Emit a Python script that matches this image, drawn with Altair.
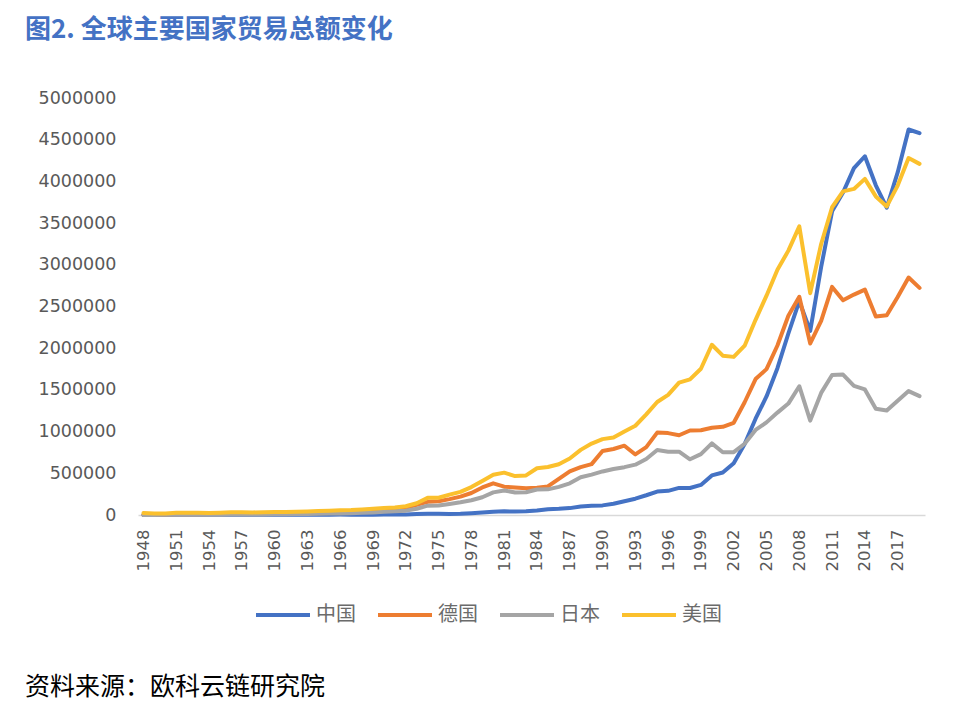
import altair as alt
import pandas as pd

years = [1948, 1949, 1950, 1951, 1952, 1953, 1954, 1955, 1956, 1957, 1958, 1959,
         1960, 1961, 1962, 1963, 1964, 1965, 1966, 1967, 1968, 1969, 1970, 1971,
         1972, 1973, 1974, 1975, 1976, 1977, 1978, 1979, 1980, 1981, 1982, 1983,
         1984, 1985, 1986, 1987, 1988, 1989, 1990, 1991, 1992, 1993, 1994, 1995,
         1996, 1997, 1998, 1999, 2000, 2001, 2002, 2003, 2004, 2005, 2006, 2007,
         2008, 2009, 2010, 2011, 2012, 2013, 2014, 2015, 2016, 2017, 2018, 2019]

china = [1300, 1100, 1900, 2300, 1900, 2400, 2400, 3100, 3100, 3100, 3900, 4400,
         3800, 2900, 2700, 2900, 3500, 4200, 4600, 4200, 4100, 4000, 4600, 4800,
         6300, 11000, 14600, 14800, 13400, 14800, 20600, 29300, 38100, 44000, 41600, 43600,
         53500, 69600, 73800, 82700, 102800, 111700, 115400, 135700, 165500, 195700, 236600, 280900,
         289900, 325200, 324200, 360600, 474300, 509700, 620800, 851000, 1154600, 1421900, 1760400, 2176200,
         2563300, 2207500, 2974000, 3641900, 3867100, 4159000, 4301500, 3953000, 3685600, 4107100, 4622400, 4577900]

germany = [2000, 3300, 5700, 7500, 8300, 9200, 10700, 12400, 14300, 16900, 17000, 19200,
           21400, 23600, 25600, 27900, 31100, 35400, 38300, 39200, 44400, 53800, 63400, 73200,
           86700, 122400, 158000, 164000, 190000, 220000, 264000, 330000, 380000, 340000, 331000, 321000,
           326000, 342000, 434000, 523000, 574000, 610000, 767000, 791000, 831000, 726000, 814000, 988000,
           982000, 956000, 1013000, 1016000, 1046000, 1058000, 1106000, 1352000, 1630000, 1749000, 2032000, 2389000,
           2617000, 2057000, 2327000, 2735000, 2574000, 2643000, 2703000, 2379000, 2394000, 2615000, 2848000, 2723000]

japan = [900, 1400, 1800, 3300, 3300, 3700, 4000, 4500, 5700, 7100, 5900, 7000,
         8500, 10000, 10500, 12200, 14600, 16600, 19300, 22100, 25900, 31000, 38200, 43900,
         52400, 75300, 111600, 113600, 131800, 151900, 177000, 213100, 271400, 294600, 270500, 273000,
         306400, 307700, 337500, 380000, 452200, 484500, 522400, 551500, 573500, 603500, 672100, 778800,
         759000, 759300, 668000, 729600, 858400, 752500, 753000, 854600, 1020000, 1110600, 1228000, 1336000,
         1544000, 1132000, 1464000, 1678000, 1684000, 1548000, 1506000, 1273000, 1252000, 1369000, 1486000, 1426000]

usa = [24000, 18900, 19200, 26000, 25900, 26200, 25400, 27100, 31600, 34300, 31000, 33800,
       36600, 37400, 39300, 41900, 46600, 50500, 56600, 58700, 67000, 73600, 83000, 89800,
       104500, 140900, 205400, 207000, 244100, 278000, 334900, 408600, 482000, 508000, 466400, 475000,
       560000, 575000, 609000, 677000, 781000, 857000, 910000, 930000, 1002000, 1070000, 1206000, 1355000,
       1440000, 1587000, 1626000, 1754000, 2041000, 1910000, 1896000, 2030000, 2340000, 2630000, 2940000, 3170000,
       3460000, 2660000, 3250000, 3690000, 3880000, 3910000, 4030000, 3820000, 3700000, 3950000, 4280000, 4210000]

series_names = ["中国", "德国", "日本", "美国"]
series_colors = ["#4472C4", "#ED7D31", "#A5A5A5", "#FBC02D"]

x_tick_labels = [1948, 1951, 1954, 1957, 1960, 1963, 1966, 1969, 1972, 1975, 1978, 1981,
                 1984, 1987, 1990, 1993, 1996, 1999, 2002, 2005, 2008, 2011, 2014, 2017]
y_tick_labels = [0, 500000, 1000000, 1500000, 2000000, 2500000, 3000000,
                 3500000, 4000000, 4500000, 5000000]

title_text = "图2. 全球主要国家贸易总额变化"
source_text = "资料来源：欧科云链研究院"

rows = []
for name, vals in zip(series_names, [china, germany, japan, usa]):
    for y, v in zip(years, vals):
        rows.append({"year": y, "value": v, "country": name})
df = pd.DataFrame(rows)

CJK = "Noto Sans CJK SC"
NUM = "DejaVu Sans"

lines = alt.Chart(df).mark_line(strokeWidth=4, strokeCap="round", strokeJoin="round").encode(
    x=alt.X("year:Q",
            scale=alt.Scale(domain=[1947.5, 2019.5], nice=False, zero=False),
            axis=alt.Axis(values=x_tick_labels, format="d", labelAngle=270, title=None,
                          ticks=False, grid=False, domain=True, domainColor="#D9D9D9",
                          domainWidth=1.5, labelPadding=14, labelFont=NUM, labelFontSize=16.5,
                          labelColor="#595959", labelOverlap=False)),
    y=alt.Y("value:Q",
            scale=alt.Scale(domain=[0, 5000000], nice=False),
            axis=alt.Axis(values=y_tick_labels, format="d", title=None, ticks=False,
                          grid=False, domain=False, labelPadding=22, labelFont=NUM,
                          labelFontSize=17.5, labelColor="#595959")),
    color=alt.Color("country:N",
                    scale=alt.Scale(domain=series_names, range=series_colors),
                    legend=alt.Legend(orient="none", legendX=116, legendY=488,
                                      direction="horizontal", title=None,
                                      symbolType="stroke", symbolSize=2916,
                                      symbolStrokeWidth=4, labelOffset=4,
                                      columnPadding=14, labelFont=CJK,
                                      labelFontSize=20, labelColor="#6B6B6B")),
    order=alt.Order("year:Q"),
)

title_df = pd.DataFrame({"t": [title_text]})
title = alt.Chart(title_df).mark_text(align="left", baseline="middle", font=CJK,
                                      fontSize=26, fontWeight="bold", color="#4472C4").encode(
    x=alt.value(-113), y=alt.value(-68), text="t:N")

src_df = pd.DataFrame({"t": [source_text]})
source = alt.Chart(src_df).mark_text(align="left", baseline="middle", font=CJK,
                                     fontSize=25, color="#000000").encode(
    x=alt.value(-113), y=alt.value(589), text="t:N")

chart = alt.layer(lines, title, source).properties(
    width=787, height=417,
    padding={"left": 130, "top": 90, "right": 25, "bottom": 196},
    autosize=alt.AutoSizeParams(type="none"),
    background="#FFFFFF",
).configure_view(strokeOpacity=0, strokeWidth=0)

chart.save("out.html", embed_options={"renderer": "svg", "actions": False})
